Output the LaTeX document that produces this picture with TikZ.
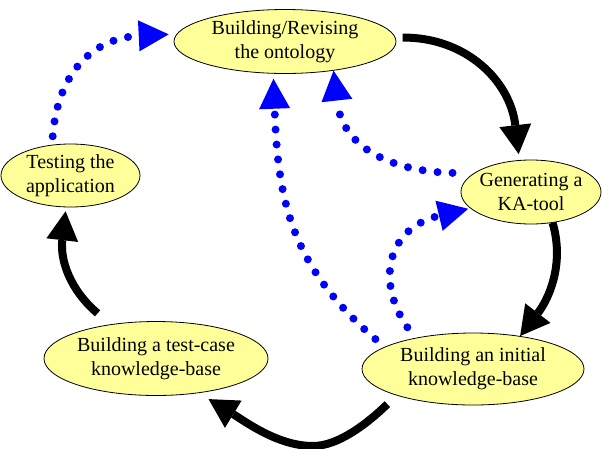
\documentclass[tikz,border=0pt]{standalone}
\usepackage{fontspec}
\setmainfont{Liberation Serif}
\usetikzlibrary{shapes.geometric,arrows.meta}
\definecolor{bubble}{RGB}{255,255,153}
\begin{document}
\begin{tikzpicture}[x=1pt,y=-1pt,
  stage/.style={ellipse,draw=black,line width=0.8pt,fill=bubble,inner xsep=-10pt,inner ysep=-4pt,align=center,font=\fontsize{20}{24}\selectfont},
  flow/.style={black,line width=8pt,-{Triangle[length=29pt,width=32pt,line width=0pt]}},
  feedback/.style={blue,line width=8pt,line cap=round,dash pattern=on 0pt off 15pt,-{Triangle[length=30pt,width=31pt,line width=0pt]}}]
\path[fill=white] (0,0) rectangle (602,448);
\useasboundingbox (0,0) rectangle (602,448);

\node[stage,minimum width=222pt,minimum height=64pt] (onto) at (285,41.5) {Building/Revising\\the ontology};
\node[stage,minimum width=139pt,minimum height=63pt] (test) at (70.5,175.5) {Testing the\\application};
\node[stage,minimum width=140pt,minimum height=64pt] (ka) at (531,192) {Generating a\\KA-tool};
\node[stage,minimum width=222pt,minimum height=72pt] (ini) at (473,369) {Building an initial\\knowledge-base};
\node[stage,minimum width=224pt,minimum height=74pt] (tc) at (156,358.5) {Building a test-case\\knowledge-base};

% main cycle
\draw[flow,shorten <=7pt,shorten >=6pt] (onto.2) .. controls (465,37) and (510,80) .. (ka.110.7);
\draw[flow] (ka.-55.9) .. controls (565,265) and (548,300) .. (ini.35.4);
\draw[flow,shorten <=12.5pt,shorten >=11.5pt] (ini.199.6) .. controls (366.8,424.1) and (338,446) .. (313,446) .. controls (278,446) and (246,422) .. (tc.-39.1);
\draw[flow,shorten <=17pt,shorten >=4pt] (tc.143.8) .. controls (70,290) and (60,260) .. (test.262.8);

% feedback
\draw[feedback,shorten <=8.5pt,shorten >=8pt] (test.121.8) .. controls (58,70) and (95,38) .. (onto.176.8);
\draw[feedback,shorten <=21pt] (ka.162.3) .. controls (405,172) and (343,155) .. (onto.-31.2);
\draw[feedback,shorten <=12pt,shorten >=5pt] (ini.166) .. controls (290,265) and (278,200) .. (onto.250.4);
\draw[feedback,shorten <=13pt,shorten >=2pt] (ini.152.1) .. controls (375,280) and (388,228) .. (ka.195.3);
\end{tikzpicture}
\end{document}
